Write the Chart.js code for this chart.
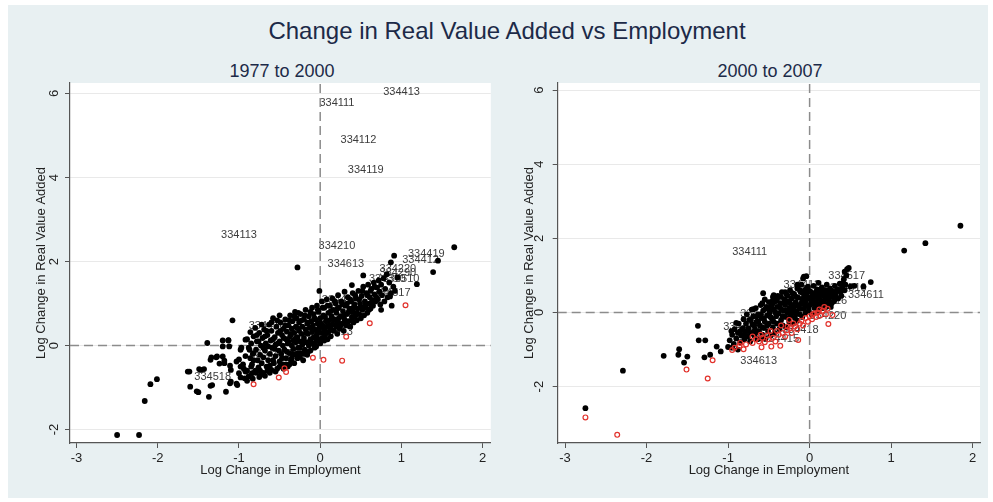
<!DOCTYPE html>
<html>
<head>
<meta charset="utf-8">
<script src="https://cdn.jsdelivr.net/npm/chart.js@4"></script>
<style>
  html,body{margin:0;padding:0;background:#ffffff;}
  body{width:993px;height:502px;position:relative;overflow:hidden;font-family:"Liberation Sans",Arial,sans-serif;}
  #bg{position:absolute;left:8px;top:5px;width:980px;height:493px;background:#e8f0f2;}
  .ttl{position:absolute;color:#1c2a48;white-space:nowrap;transform:translate(-50%,-50%);}
  #main{left:507px;top:31px;font-size:24px;}
  #s1{left:282px;top:71px;font-size:18px;}
  #s2{left:770px;top:71px;font-size:18px;}
  canvas{position:absolute;top:0;}
  #c1{left:0;}
  #c2{left:496px;}
</style>
</head>
<body>
<div id="bg"></div>
<div class="ttl" id="main">Change in Real Value Added vs Employment</div>
<div class="ttl" id="s1">1977 to 2000</div>
<div class="ttl" id="s2">2000 to 2007</div>
<canvas id="c1" width="496" height="502"></canvas>
<canvas id="c2" width="497" height="502"></canvas>
<script>
// ---------- DATA ----------
const xTicks = [-3, -2, -1, 0, 1, 2];
const yTicks = [-2, 0, 2, 4, 6];
const xTitle = "Log Change in Employment";
const yTitle = "Log Change in Real Value Added";

// Panel 1: 1977 to 2000
const leftBlack = [
 [1.65,2.34],[1.45,2.02],[0.91,2.14],[0.87,1.98],[1.39,1.75],[1.19,1.46],[-0.28,1.86],[0.53,1.67],[0.39,1.44],[-0.01,1.30],
 [-1.08,0.60],[-1.39,0.06],[-1.63,-0.62],[-1.49,-0.56],[-1.43,-0.56],[-1.60,-0.98],[-1.50,-1.11],[-1.37,-1.22],[-1.16,-1.10],[-1.35,-0.96],
 [-2.09,-0.92],[-2.01,-0.80],[-2.16,-1.32],[-2.50,-2.13],[-2.23,-2.13],[-1.03,-0.91],[-1.11,-0.90],
 [-1.20,0.12],[-1.13,0.12],[-1.20,-0.02],[-1.12,-0.02],[-1.35,-0.34],[-1.28,-0.28],[-1.20,-0.26],[-1.18,-0.42],[-1.11,-0.48],
 [-1.10,-0.58],[-1.03,-0.38],[-0.98,-0.50],[-1.00,-0.66],[-0.92,-0.62],[-0.93,-0.78],[-0.84,-0.66],[-0.90,-0.84],[-1.02,-0.94],
 [-1.47,-0.58],[-1.61,-0.62],[-1.52,-1.09],[-1.33,-0.94],[-1.10,-0.86],[-0.80,-0.62],[-0.75,-0.75],[-0.92,0.14],[-0.98,-0.10],
 [-0.87,-0.10],[-0.82,-0.18],[-1.13,0.13],[-1.27,-0.26],[-1.34,-0.28],[-1.24,-0.43],[-1.18,-0.36],[-1.00,-0.33],[-0.94,-0.55],
 [-0.85,-0.50],[-0.79,-0.65],[-0.88,-0.73],[-0.98,-0.76],[-0.83,-0.79],[-0.73,-0.69],
 [-0.90,0.15],[-0.88,-0.05],[-0.86,-0.30],[-0.85,0.05],[-0.84,-0.45],[-0.83,-0.20],[-0.82,0.22],[-0.80,-0.60],[-0.79,-0.10],[-0.78,0.10],
 [-0.77,-0.35],[-0.76,-0.52],[-0.75,0.30],[-0.74,-0.22],[-0.73,0.00],[-0.72,-0.42],[-0.71,0.18],[-0.70,-0.65],[-0.70,-0.28],[-0.69,0.38],
 [-0.68,-0.12],[-0.67,0.05],[-0.66,-0.50],[-0.65,0.25],[-0.64,-0.35],[-0.63,0.50],[-0.62,-0.20],[-0.61,0.12],[-0.60,-0.58],[-0.60,0.35],
 [-0.59,-0.05],[-0.58,0.65],[-0.57,-0.42],[-0.56,0.20],[-0.55,-0.25],[-0.55,0.02],[-0.54,0.45],[-0.53,-0.55],[-0.52,0.30],[-0.51,-0.12],
 [-0.50,0.72],[-0.50,-0.38],[-0.50,0.10],[-0.49,0.55],[-0.48,-0.20],[-0.47,0.25],[-0.46,-0.45],[-0.46,0.00],[-0.45,0.40],[-0.44,-0.10],
 [-0.43,0.62],[-0.42,-0.30],[-0.42,0.15],[-0.41,0.33],[-0.40,-0.50],[-0.40,0.05],[-0.39,0.48],[-0.38,-0.18],[-0.37,0.72],[-0.37,0.22],
 [-0.36,-0.35],[-0.35,0.00],[-0.35,0.40],[-0.34,0.58],[-0.33,-0.08],[-0.33,0.12],[-0.32,-0.42],[-0.32,0.30],[-0.31,0.80],[-0.30,-0.22],
 [-0.30,0.45],[-0.30,0.08],[-0.29,0.65],[-0.28,-0.30],[-0.28,0.20],[-0.27,-0.05],[-0.26,0.35],[-0.26,0.55],[-0.25,0.10],[-0.24,-0.18],
 [-0.24,0.75],[-0.23,0.28],[-0.22,0.02],[-0.22,0.45],[-0.21,-0.35],[-0.20,0.62],[-0.20,0.18],[-0.19,-0.10],[-0.18,0.38],[-0.18,0.85],
 [-0.17,0.08],[-0.16,0.52],[-0.16,-0.22],[-0.15,0.28],[-0.14,0.70],[-0.14,0.00],[-0.13,0.42],[-0.12,0.15],[-0.12,-0.12],[-0.11,0.58],
 [-0.10,0.32],[-0.10,0.90],[-0.10,0.05],[-0.09,0.48],[-0.08,0.20],[-0.08,0.75],[-0.07,-0.05],[-0.06,0.38],[-0.06,0.62],[-0.05,0.10],
 [-0.04,0.95],[-0.04,0.28],[-0.03,0.52],[-0.02,0.15],[-0.02,0.80],[-0.01,0.42],[0.00,0.05],[0.00,0.65],[0.01,0.30],[0.02,1.05],
 [0.02,0.50],[0.03,0.18],[0.04,0.72],[0.05,0.38],[0.05,0.90],[0.06,0.25],[0.07,0.58],[0.08,1.10],[0.08,0.45],[0.09,0.15],
 [0.10,0.78],[0.10,0.32],[0.11,0.60],[0.12,0.95],[0.12,0.42],[0.13,0.22],[0.14,0.70],[0.15,1.12],[0.15,0.50],[0.16,0.85],
 [0.17,0.35],[0.18,0.62],[0.19,1.00],[0.20,0.45],[0.20,0.78],[0.21,0.28],[0.22,1.20],[0.22,0.55],[0.23,0.90],[0.24,0.40],
 [0.25,0.70],[0.26,1.05],[0.27,0.52],[0.28,0.82],[0.29,0.35],[0.30,1.28],[0.30,0.62],[0.31,0.95],[0.32,0.48],[0.33,0.75],
 [0.34,1.15],[0.35,0.58],[0.36,0.88],[0.37,0.45],[0.38,1.05],[0.39,0.68],[0.40,1.25],[0.40,0.80],[0.41,0.55],[0.42,0.98],
 [0.43,0.70],[0.44,1.12],[0.45,0.60],[0.46,0.88],[0.47,1.30],[0.48,0.75],[0.49,1.00],[0.50,0.65],[0.51,1.18],[0.52,0.85],
 [0.53,1.40],[0.54,0.72],[0.55,1.05],[0.56,0.90],[0.57,1.25],[0.58,0.78],[0.59,1.45],[0.60,1.00],[0.61,1.15],[0.62,0.88],
 [0.63,1.35],[0.64,1.08],[0.65,0.95],[0.66,1.50],[0.67,1.22],[0.68,1.05],[0.70,1.38],[0.71,1.10],[0.72,1.55],[0.73,1.28],
 [0.74,0.98],[0.75,1.45],[0.76,1.20],[0.78,1.60],[0.79,1.05],[0.80,1.35],[0.82,1.70],[0.83,1.15],[0.85,1.50],[0.87,1.25],
 [0.88,0.95],[0.90,1.40],[0.92,1.30],[0.95,1.62],[0.75,0.85],[0.86,1.17],
 [-0.95,-0.45],[-0.92,-0.25],[-0.97,-0.05],[-0.68,-0.72],[-0.62,-0.48],[-0.55,-0.62],[-0.45,-0.55],[-0.38,-0.45],[-0.25,-0.28],
 [-0.15,-0.15],[-0.05,-0.02],[0.05,0.12],
 [-0.86,0.32],[-0.80,0.42],[-0.76,0.10],[-0.72,0.50],[-0.70,-0.05],[-0.66,0.35],[-0.64,-0.02],[-0.60,0.55],[-0.58,0.15],[-0.56,-0.08],
 [-0.53,0.60],[-0.52,0.05],[-0.49,0.35],[-0.47,-0.30],[-0.45,0.18],[-0.43,0.48],[-0.41,-0.15],[-0.39,0.10],[-0.38,0.60],[-0.36,0.28],
 [-0.34,-0.20],[-0.32,0.70],[-0.30,0.18],[-0.28,0.42],[-0.27,0.78],[-0.25,-0.05],[-0.23,0.60],[-0.21,0.10],[-0.19,0.72],[-0.17,0.30],
 [-0.15,0.55],[-0.13,0.05],[-0.12,0.80],[-0.10,0.42],[-0.08,0.05],[-0.07,0.65],[-0.05,0.22],[-0.03,0.85],[-0.02,0.35],[0.00,0.55],
 [0.01,0.15],[0.03,0.90],[0.04,0.45],[0.06,0.68],[0.07,0.30],[0.09,0.95],[0.11,0.48],[0.13,0.82],[0.14,0.38],[0.16,0.62],
 [0.18,1.05],[0.19,0.50],[0.21,0.88],[0.23,0.65],[0.25,0.48],[0.27,0.98],[0.29,0.72],[0.31,0.55],[0.33,1.00],[0.35,0.80],
 [0.37,1.10],[0.39,0.60],[0.41,0.90],[0.43,1.20],[0.45,0.78],[0.48,1.10],[0.50,0.90],[0.52,1.30],[0.55,0.95],[0.58,1.20],
 [0.60,0.85],[0.62,1.30],[0.64,0.98],[0.67,1.40],[0.69,1.15],[-0.65,-0.60],[-0.58,-0.35],[-0.50,-0.50],[-0.42,-0.45],[-0.35,-0.30],
 [-0.28,-0.18],[-0.20,-0.20],[-0.90,-0.60],[-0.82,-0.35],[-0.78,0.25],[-0.74,-0.60],[-0.68,0.22],[-0.62,-0.65]
];
const leftRed = [
 [1.05,0.96],[0.61,0.53],[0.32,0.21],[0.27,-0.36],[0.04,-0.34],[-0.09,-0.29],[-0.44,-0.54],[-0.42,-0.63],[-0.51,-0.76],[-0.82,-0.92]
];
const leftLabelText = ["334413","334111","334112","334119","334113","334210","334613","334419","334412","334220","334290","334310","334510","334517","334513","334416","334518","334418","334417"];
const leftLabelX    = [0.775,-0.01,0.25,0.34,-1.22,-0.02,0.09,1.08,1.01,0.73,0.73,0.60,0.77,0.66,-0.05,-0.88,-1.55,0.02,-0.80];
const leftLabelY    = [6.03,5.77,4.90,4.18,2.64,2.37,1.95,2.18,2.03,1.82,1.72,1.58,1.58,1.25,0.33,0.47,-0.75,1.08,-0.20];

// Panel 2: 2000 to 2007
const rightBlack = [
 [1.85,2.34],[1.42,1.87],[1.16,1.67],[-2.75,-2.58],[-2.29,-1.57],[-1.79,-1.17],[-1.60,-0.99],[-1.61,-1.14],[-1.50,-1.19],[-1.54,-1.35],
 [-1.37,-0.36],[-1.36,-0.75],[-1.28,-0.75],[-1.29,-1.21],[-1.22,-1.14],[-1.14,-0.92],[-1.09,-1.05],[-1.00,-0.93],
 [0.75,0.82],[0.46,1.17],[0.43,1.10],[0.66,0.70],[-0.07,0.97],[-0.04,0.98],[-0.57,0.52],[-0.44,0.47],[-0.69,0.09],[-0.58,0.25],
 [-0.98,-0.75],[-0.95,-0.60],[-0.93,-0.85],[-0.92,-0.45],[-0.90,-0.70],[-0.88,-0.55],[-0.87,-0.30],[-0.85,-0.80],[-0.84,-0.62],[-0.82,-0.42],
 [-0.81,-0.18],[-0.80,-0.72],[-0.79,-0.52],[-0.78,-0.30],[-0.77,-0.05],[-0.76,-0.65],[-0.75,-0.42],[-0.74,-0.20],[-0.73,-0.78],[-0.72,-0.55],
 [-0.71,0.08],[-0.70,-0.32],[-0.69,-0.10],[-0.68,-0.62],[-0.67,-0.45],[-0.66,0.12],[-0.65,-0.25],[-0.64,-0.72],[-0.63,-0.05],[-0.62,-0.50],
 [-0.61,-0.35],[-0.60,0.20],[-0.59,-0.15],[-0.58,-0.60],[-0.57,0.05],[-0.56,-0.42],[-0.55,0.35],[-0.55,-0.25],[-0.54,-0.70],[-0.53,0.15],
 [-0.52,-0.08],[-0.51,-0.50],[-0.50,0.28],[-0.50,-0.30],[-0.49,0.00],[-0.48,-0.62],[-0.47,0.18],[-0.46,-0.18],[-0.45,0.42],[-0.45,-0.40],
 [-0.44,0.08],[-0.43,-0.55],[-0.42,0.30],[-0.41,-0.10],[-0.40,-0.30],[-0.40,0.15],[-0.39,0.45],[-0.38,-0.02],[-0.37,-0.45],[-0.36,0.25],
 [-0.35,-0.20],[-0.35,0.10],[-0.34,0.55],[-0.33,-0.35],[-0.32,0.05],[-0.31,0.35],[-0.30,-0.12],[-0.30,0.20],[-0.29,-0.40],[-0.28,0.48],
 [-0.27,0.00],[-0.26,0.30],[-0.25,-0.25],[-0.25,0.12],[-0.24,0.60],[-0.23,-0.08],[-0.22,0.38],[-0.21,0.20],[-0.20,-0.30],[-0.20,0.05],
 [-0.19,0.50],[-0.18,-0.15],[-0.17,0.28],[-0.16,0.02],[-0.15,0.65],[-0.15,-0.22],[-0.14,0.40],[-0.13,0.15],[-0.12,-0.05],[-0.11,0.55],
 [-0.10,0.25],[-0.10,0.75],[-0.09,-0.12],[-0.08,0.38],[-0.07,0.10],[-0.06,0.60],[-0.05,-0.02],[-0.05,0.30],[-0.04,0.48],[-0.03,0.18],
 [-0.02,0.70],[-0.01,0.05],[0.00,0.40],[0.01,0.22],[0.02,0.55],[0.03,-0.05],[0.04,0.35],[0.05,0.72],[0.06,0.12],[0.07,0.45],
 [0.08,0.28],[0.09,0.62],[0.10,0.05],[0.10,0.38],[0.11,0.80],[0.12,0.20],[0.13,0.52],[0.14,0.32],[0.15,0.68],[0.16,0.12],
 [0.17,0.45],[0.18,0.25],[0.19,0.60],[0.20,0.38],[0.21,0.75],[0.22,0.20],[0.23,0.50],[0.24,0.32],[0.25,0.65],[0.26,0.15],
 [0.27,0.42],[0.28,0.58],[0.30,0.30],[0.31,0.72],[0.32,0.50],[0.34,0.62],[0.35,0.38],[0.37,0.78],[0.38,0.55],[0.40,0.68],
 [0.42,0.90],[0.44,0.75],[0.45,1.00],[0.48,1.20],[0.50,0.70],[0.55,0.72],
 [-0.95,-0.95],[-0.88,-1.00],[-0.90,-0.28],[-0.96,-0.50],
 [-0.85,-0.50],[-0.80,-0.60],[-0.76,-0.50],[-0.72,-0.20],[-0.68,-0.35],[-0.66,-0.55],[-0.63,-0.25],[-0.60,-0.05],[-0.58,-0.40],[-0.56,-0.15],
 [-0.54,0.10],[-0.52,-0.35],[-0.50,0.12],[-0.48,-0.12],[-0.46,0.30],[-0.44,-0.25],[-0.42,0.00],[-0.40,0.35],[-0.38,-0.30],[-0.37,0.15],
 [-0.35,0.42],[-0.33,-0.10],[-0.31,0.25],[-0.29,0.05],[-0.27,0.45],[-0.26,-0.15],[-0.24,0.25],[-0.22,0.00],[-0.21,0.52],[-0.19,0.15],
 [-0.17,-0.05],[-0.16,0.42],[-0.14,0.20],[-0.12,0.60],[-0.11,0.10],[-0.09,0.32],[-0.08,0.52],[-0.06,0.20],[-0.04,0.65],[-0.03,0.38],
 [-0.01,0.15],[0.00,0.58],[0.02,0.30],[0.04,0.48],[0.06,0.25],[0.08,0.55],[0.10,0.20],[0.12,0.45],[0.14,0.62],[0.16,0.30],
 [0.18,0.50],[0.20,0.15],[0.22,0.58],[0.24,0.45],[0.27,0.25],[0.29,0.50],[0.33,0.40],[0.36,0.60],[0.39,0.45],[0.41,0.80],
 [0.43,0.60],[-0.08,0.92],[-0.60,-0.70],[-0.70,-0.55],[-0.45,0.25],[-0.30,0.55],[-0.15,0.75],[-0.65,-0.10]
];
const rightRed = [
 [-2.75,-2.83],[-2.36,-3.30],[-1.51,-1.54],[-1.25,-1.78],[-1.19,-1.29],[-0.95,-1.01],[-0.81,-0.99],[-0.59,-0.94],[-0.47,-0.92],[-0.36,-0.90],
 [-0.14,-0.74],[0.23,-0.31],[0.28,-0.07],
 [-0.92,-0.95],[-0.86,-0.90],[-0.78,-0.86],[-0.70,-0.82],[-0.62,-0.78],[-0.55,-0.80],[-0.50,-0.72],[-0.45,-0.68],[-0.42,-0.78],[-0.38,-0.60],
 [-0.33,-0.55],[-0.30,-0.65],[-0.28,-0.48],[-0.24,-0.42],[-0.22,-0.55],[-0.18,-0.38],[-0.15,-0.45],[-0.12,-0.30],[-0.10,-0.22],[-0.08,-0.35],
 [-0.05,-0.15],[-0.02,-0.25],[0.00,-0.10],[0.03,-0.18],[0.06,-0.02],[0.08,-0.12],[0.10,0.00],[0.13,-0.08],[0.16,0.05],[0.20,-0.05],
 [0.22,0.10],[-0.60,-0.60],[-0.35,-0.35],[-0.48,-0.50],[-0.70,-0.65],[-0.25,-0.20],[0.18,0.15],
 [-0.66,-0.72],[-0.52,-0.62],[-0.40,-0.50],[-0.20,-0.30],[0.04,-0.05],[0.12,0.08],[-0.58,-0.68],[-0.85,-0.82],[-0.27,-0.38]
];
const rightLabelText = ["334111","334517","334510","334611","334416","334412","334613","334415","334418","334413","334220","334419"];
const rightLabelX    = [-0.95,0.23,0.25,0.47,0.01,-0.32,-0.85,-0.58,-0.34,-1.06,0.00,-0.85];
const rightLabelY    = [1.64,0.99,0.66,0.48,0.30,0.73,-1.32,-0.72,-0.47,-0.39,-0.10,-0.05];

// ---------- CHART BUILDING ----------
const FONT = '"Liberation Sans", Arial, sans-serif';

const plotBgPlugin = {
  id: 'plotBg',
  beforeDraw(chart) {
    const a = chart.chartArea, ctx = chart.ctx;
    ctx.save();
    ctx.fillStyle = '#ffffff';
    ctx.fillRect(a.left, a.top, a.right - a.left, a.bottom - a.top);
    ctx.restore();
  }
};

const labelsPlugin = {
  id: 'pointLabels',
  beforeDatasetsDraw(chart, args, opts) {
    const ctx = chart.ctx, xs = chart.scales.x, ys = chart.scales.y;
    ctx.save();
    ctx.font = '11px ' + FONT;
    ctx.fillStyle = '#3c3c3c';
    ctx.textAlign = 'left';
    ctx.textBaseline = 'middle';
    opts.text.forEach((t, i) => {
      ctx.fillText(t, xs.getPixelForValue(opts.x[i]), ys.getPixelForValue(opts.y[i]));
    });
    ctx.restore();
  }
};

const yTickLabelPlugin = {
  id: 'yTickLabels',
  afterDraw(chart, args, opts) {
    const ctx = chart.ctx, ys = chart.scales.y;
    const cx = chart.chartArea.left - opts.offset;
    ctx.save();
    ctx.font = '13px ' + FONT;
    ctx.fillStyle = '#222222';
    ctx.textAlign = 'center';
    ctx.textBaseline = 'middle';
    yTicks.forEach(v => {
      ctx.save();
      ctx.translate(cx, ys.getPixelForValue(v));
      ctx.rotate(-Math.PI / 2);
      ctx.fillText(String(v), 0, 0);
      ctx.restore();
    });
    ctx.restore();
  }
};

function toXY(arr) { return arr.map(p => ({x: p[0], y: p[1]})); }

function makeChart(id, black, red, lt, lx, ly, xr, yr, pad, yWidth, yTitlePad, tickOffset) {
  return new Chart(document.getElementById(id), {
    type: 'scatter',
    data: {
      datasets: [
        { label: 'red', data: toXY(red), order: 0, pointRadius: 2.4, pointBorderWidth: 1.2,
          pointBackgroundColor: 'rgba(0,0,0,0)', pointBorderColor: '#e2322c', showLine: false },
        { label: 'black', data: toXY(black), order: 1, pointRadius: 2.9, pointBorderWidth: 0,
          pointBackgroundColor: '#000000', pointBorderColor: '#000000', showLine: false },
        { type: 'line', label: 'vline', data: [{x: 0, y: yr[0]}, {x: 0, y: yr[1]}], order: 3,
          borderColor: '#8c8c8c', borderWidth: 1.5, borderDash: [9, 5], pointRadius: 0, fill: false },
        { type: 'line', label: 'hline', data: [{x: xr[0], y: 0}, {x: xr[1], y: 0}], order: 3,
          borderColor: '#8c8c8c', borderWidth: 1.5, borderDash: [9, 5], pointRadius: 0, fill: false }
      ]
    },
    options: {
      responsive: false, animation: false, events: [],
      layout: { padding: pad },
      plugins: {
        legend: { display: false }, tooltip: { enabled: false },
        pointLabels: { text: lt, x: lx, y: ly },
        yTickLabels: { offset: tickOffset }
      },
      scales: {
        x: {
          type: 'linear', min: xr[0], max: xr[1],
          afterBuildTicks: s => { s.ticks = xTicks.map(v => ({value: v})); },
          afterFit: s => { s.height = 40; },
          ticks: { font: { size: 13, family: FONT }, color: '#222222', padding: 3, maxRotation: 0 },
          grid: { drawOnChartArea: false, drawTicks: true, tickLength: 5, tickColor: '#555555', tickWidth: 1 },
          border: { display: true, color: '#555555', width: 1.2 },
          title: { display: true, text: xTitle, color: '#222222', font: { size: 13, family: FONT }, padding: { top: 0, bottom: 5 } }
        },
        y: {
          type: 'linear', min: yr[0], max: yr[1],
          afterBuildTicks: s => { s.ticks = yTicks.map(v => ({value: v})); },
          afterFit: s => { s.width = yWidth; },
          ticks: { display: false },
          grid: { color: '#e9e9e9', lineWidth: 1, drawTicks: true, tickLength: 5, tickColor: '#555555', tickWidth: 1 },
          border: { display: true, color: '#555555', width: 1.2 },
          title: { display: true, text: yTitle, color: '#222222', font: { size: 13, family: FONT }, padding: { top: yTitlePad, bottom: 0 } }
        }
      }
    },
    plugins: [plotBgPlugin, labelsPlugin, yTickLabelPlugin]
  });
}

makeChart('c1', leftBlack, leftRed, leftLabelText, leftLabelX, leftLabelY,
  [-3.08, 2.10], [-2.32, 6.25], { top: 83, right: 3, bottom: 19, left: 26 }, 44, 7.7, 16);
makeChart('c2', rightBlack, rightRed, rightLabelText, rightLabelX, rightLabelY,
  [-3.09, 2.09], [-3.52, 6.19], { top: 83, right: 13, bottom: 19, left: 18 }, 43.7, 7.2, 18);
</script>
</body>
</html>
